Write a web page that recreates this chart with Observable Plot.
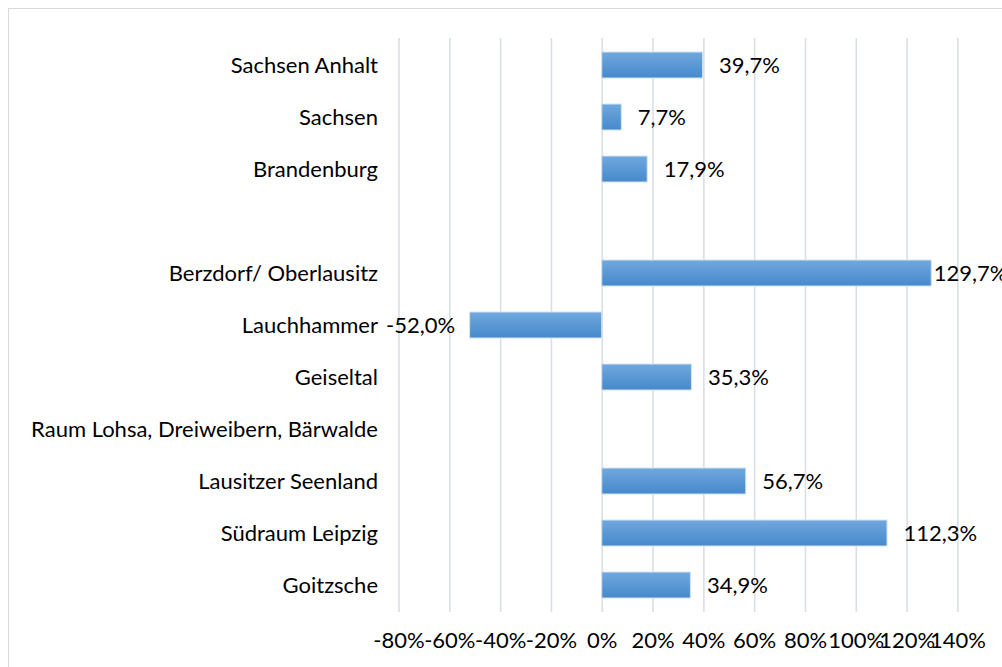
<!DOCTYPE html>
<html>
<head>
<meta charset="utf-8">
<script src="https://cdn.jsdelivr.net/npm/d3@7"></script>
<script src="https://cdn.jsdelivr.net/npm/@observablehq/plot@0.6"></script>
<style>
  html, body { margin: 0; padding: 0; background: #fff; overflow: hidden; width: 1002px; height: 667px; }
  #frame { position: absolute; left: 8px; top: 8px; width: 1100px; height: 800px; border: 1.5px solid #d9d9d9; }
  #chart { position: absolute; left: 0; top: 0; }
</style>
</head>
<body>
<div id="frame"></div>
<div id="chart"></div>
<script>
const categories = ["Sachsen Anhalt", "Sachsen", "Brandenburg", " ", "Berzdorf/ Oberlausitz", "Lauchhammer", "Geiseltal", "Raum Lohsa, Dreiweibern, Bärwalde", "Lausitzer Seenland", "Südraum Leipzig", "Goitzsche"];
const values = [39.7, 7.7, 17.9, null, 129.7, -52.0, 35.3, null, 56.7, 112.3, 34.9];
const xTicks = [-80, -60, -40, -20, 0, 20, 40, 60, 80, 100, 120, 140];

const data = categories.map((c, i) => ({category: c, value: values[i]}));
const bars = data.filter(d => d.value != null);
const fmt = v => v.toFixed(1).replace(".", ",") + "%";
const font = "Lato, 'Open Sans', sans-serif";
const fs = 22;

const gradientDefs = () => {
  const defs = d3.create("svg:defs");
  const g = defs.append("linearGradient").attr("id", "barGrad").attr("x1", 0).attr("y1", 0).attr("x2", 0).attr("y2", 1);
  g.append("stop").attr("offset", "0%").attr("stop-color", "#70a8de");
  g.append("stop").attr("offset", "100%").attr("stop-color", "#4689cc");
  return defs.node();
};

const chart = Plot.plot({
  width: 1002,
  height: 667,
  marginLeft: 398.5,
  marginRight: 44.6,
  marginTop: 38,
  marginBottom: 55,
  style: {fontFamily: font, fontSize: fs + "px", color: "#000", background: "transparent", overflow: "visible"},
  x: {domain: [-80, 140], ticks: xTicks, tickFormat: d => d + "%", label: null},
  y: {domain: categories, padding: 0.5, paddingOuter: 0.25, label: null},
  marks: [
    gradientDefs,
    Plot.ruleX(xTicks, {stroke: "#dadee5", strokeWidth: 1.6}),
    Plot.barX(bars, {x: "value", y: "category", fill: "url(#barGrad)", stroke: "#d2e3f4", strokeWidth: 1}),
    Plot.text(bars.filter(d => d.value >= 0 && d.value < 120), {x: "value", y: "category", text: d => fmt(d.value), textAnchor: "start", dx: 16, fill: "#000", fontSize: fs}),
    Plot.text(bars.filter(d => d.value >= 120), {x: "value", y: "category", text: d => fmt(d.value), textAnchor: "start", dx: 2, fill: "#000", fontSize: fs}),
    Plot.text(bars.filter(d => d.value < 0), {x: "value", y: "category", text: d => fmt(d.value), textAnchor: "end", dx: -15, fill: "#000", fontSize: fs}),
    Plot.axisY({tickSize: 0, tickPadding: 21, fontSize: fs, label: null}),
    Plot.axisX({ticks: xTicks, tickFormat: d => d + "%", tickSize: 0, tickPadding: 20, fontSize: fs, label: null})
  ]
});
document.getElementById("chart").appendChild(chart);
</script>
</body>
</html>
